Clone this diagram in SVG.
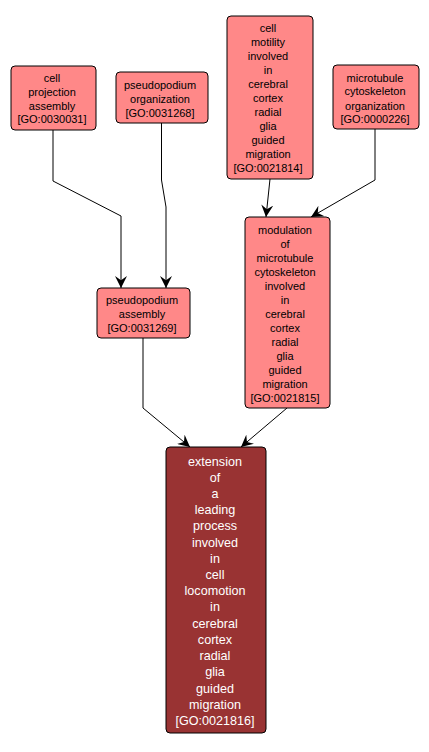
<svg xmlns="http://www.w3.org/2000/svg" width="429" height="752" viewBox="0 0 429 752">
<style>
.n rect{fill:#ff8888;stroke:#000;stroke-width:1}
.n text{font-family:"Liberation Sans",Arial,sans-serif;font-size:11px;fill:#000;text-anchor:middle}
.g rect{fill:#993333;stroke:#000;stroke-width:1}
.g text{font-family:"Liberation Sans",Arial,sans-serif;font-size:12.6px;fill:#fff;text-anchor:middle}
.e path{fill:none;stroke:#000;stroke-width:1}
</style>
<defs>
<marker id="arr" markerUnits="userSpaceOnUse" markerWidth="12" markerHeight="12" refX="10" refY="5" orient="auto" viewBox="0 0 10 10">
<path d="M0,0 L10,5 L0,10 L3.5,5 z" fill="#000"/>
</marker>
</defs>
<rect width="429" height="752" fill="#fff"/>
<g id="edges" class="e">
<path d="M53,130 L53,181 L121,216 L121,288" marker-end="url(#arr)"/>
<path d="M161.5,123 L161.5,180 L166,207 L166,288" marker-end="url(#arr)"/>
<path d="M270,179 L266,217" marker-end="url(#arr)"/>
<path d="M375,129 L375,180 L311,217" marker-end="url(#arr)"/>
<path d="M143,338 L143,408 L190,447" marker-end="url(#arr)"/>
<path d="M287,408 L241,447" marker-end="url(#arr)"/>
</g>
<g id="n_GO0030031" class="n">
<rect x="11" y="66" width="85" height="64" rx="4"/>
<text x="52" y="82">cell</text>
<text x="52" y="95.5">projection</text>
<text x="52" y="109.5">assembly</text>
<text x="52" y="123">[GO:0030031]</text>
</g>
<g id="n_GO0031268" class="n">
<rect x="116" y="72" width="92" height="51" rx="4"/>
<text x="160" y="88.5">pseudopodium</text>
<text x="160" y="102.5">organization</text>
<text x="160" y="116.5">[GO:0031268]</text>
</g>
<g id="n_GO0021814" class="n">
<rect x="227" y="16" width="86" height="163" rx="4"/>
<text x="268" y="32">cell</text>
<text x="268" y="46">motility</text>
<text x="268" y="60">involved</text>
<text x="268" y="74">in</text>
<text x="268" y="88">cerebral</text>
<text x="268" y="102">cortex</text>
<text x="268" y="116">radial</text>
<text x="268" y="130">glia</text>
<text x="268" y="144">guided</text>
<text x="268" y="158">migration</text>
<text x="268" y="172">[GO:0021814]</text>
</g>
<g id="n_GO0000226" class="n">
<rect x="333" y="65" width="86" height="64" rx="4"/>
<text x="375" y="81.5">microtubule</text>
<text x="375" y="95">cytoskeleton</text>
<text x="375" y="109.5">organization</text>
<text x="375" y="123">[GO:0000226]</text>
</g>
<g id="n_GO0031269" class="n">
<rect x="97" y="288" width="93" height="50" rx="4"/>
<text x="142" y="304">pseudopodium</text>
<text x="142" y="318">assembly</text>
<text x="142" y="331.5">[GO:0031269]</text>
</g>
<g id="n_GO0021815" class="n">
<rect x="245" y="217" width="85" height="191" rx="4"/>
<text x="285" y="233.5">modulation</text>
<text x="285" y="247.5">of</text>
<text x="285" y="261.5">microtubule</text>
<text x="285" y="275.5">cytoskeleton</text>
<text x="285" y="289.5">involved</text>
<text x="285" y="303.5">in</text>
<text x="285" y="317.5">cerebral</text>
<text x="285" y="331.5">cortex</text>
<text x="285" y="345.5">radial</text>
<text x="285" y="359.5">glia</text>
<text x="285" y="373.5">guided</text>
<text x="285" y="387.5">migration</text>
<text x="285" y="401.5">[GO:0021815]</text>
</g>
<g id="n_GO0021816" class="g">
<rect x="166" y="447" width="100" height="286" rx="4"/>
<text x="215" y="465.5">extension</text>
<text x="215" y="481.5">of</text>
<text x="215" y="498">a</text>
<text x="215" y="514">leading</text>
<text x="215" y="530">process</text>
<text x="215" y="546.5">involved</text>
<text x="215" y="562.5">in</text>
<text x="215" y="579">cell</text>
<text x="215" y="595">locomotion</text>
<text x="215" y="611">in</text>
<text x="215" y="627.5">cerebral</text>
<text x="215" y="643.5">cortex</text>
<text x="215" y="660">radial</text>
<text x="215" y="676">glia</text>
<text x="215" y="692.5">guided</text>
<text x="215" y="708.5">migration</text>
<text x="215" y="725">[GO:0021816]</text>
</g>
</svg>
